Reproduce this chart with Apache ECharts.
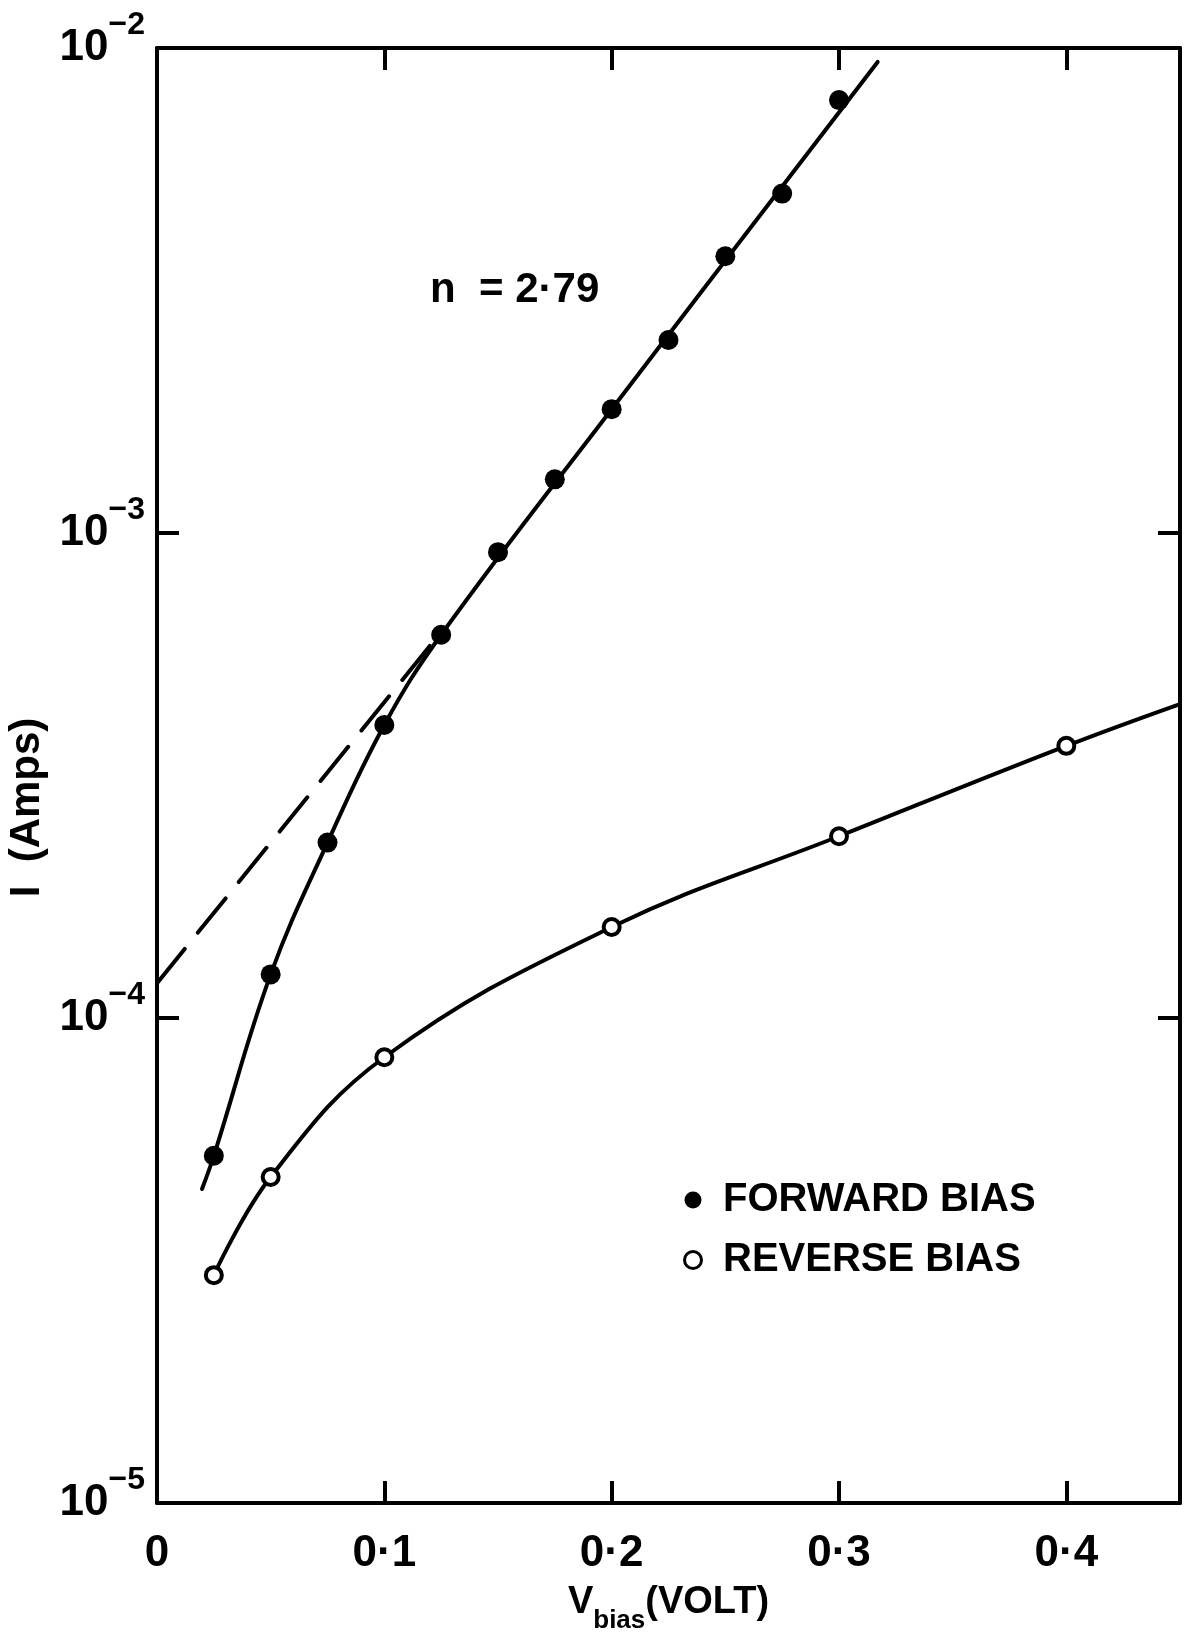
<!DOCTYPE html>
<html>
<head>
<meta charset="utf-8">
<title>I-V</title>
<script src="https://cdn.jsdelivr.net/npm/echarts@6/dist/echarts.min.js"></script>
<style>
html, body {margin: 0; padding: 0; background: #fff;}
#main {width: 1187px; height: 1640px;}
</style>
</head>
<body>
<div id="main"></div>
<script>
// forward bias, measured points
var forwardV = [0.025, 0.05, 0.075, 0.1, 0.125, 0.15, 0.175, 0.2, 0.225, 0.25, 0.275, 0.3];
var forwardI = [5.2e-5, 1.23e-4, 2.3e-4, 4.02e-4, 6.17e-4, 9.13e-4, 1.29e-3, 1.8e-3, 2.5e-3, 3.72e-3, 5.01e-3, 7.81e-3];
// reverse bias, measured points
var reverseV = [0.025, 0.05, 0.1, 0.2, 0.3, 0.4];
var reverseI = [2.95e-5, 4.7e-5, 8.3e-5, 1.54e-4, 2.37e-4, 3.64e-4];
// hand drawn curves through the points
var forwardCurveV = [0.0198, 0.025, 0.05, 0.075, 0.1, 0.125, 0.2, 0.317];
var forwardCurveI = [4.44e-5, 5.2e-5, 1.23e-4, 2.3e-4, 4.02e-4, 6.17e-4, 1.8e-3, 9.36e-3];
var reverseCurveV = [0.025, 0.05, 0.1, 0.2, 0.3, 0.4, 0.45];
var reverseCurveI = [2.95e-5, 4.7e-5, 8.3e-5, 1.54e-4, 2.37e-4, 3.64e-4, 4.44e-4];
// dashed extrapolation of the straight part
var extrapV = [0, 0.12];
var extrapI = [1.18e-4, 5.85e-4];
// tick labels
var xTicks = [0, 0.1, 0.2, 0.3, 0.4];
var xTickLabels = ['0', '0·1', '0·2', '0·3', '0·4'];
var yTicks = [1e-5, 1e-4, 1e-3, 1e-2];
var yTickLabels = ['−5', '−4', '−3', '−2'];

var FONT = '"Liberation Sans", Arial, sans-serif';

function pairs(xs, ys) {
    return xs.map(function (x, i) { return [x, ys[i]]; });
}

function fmtX(value) {
    for (var i = 0; i < xTicks.length; i++) {
        if (Math.abs(value - xTicks[i]) < 1e-9) return xTickLabels[i];
    }
    return '';
}

function fmtY(value) {
    for (var i = 0; i < yTicks.length; i++) {
        if (Math.abs(Math.log10(value) - Math.log10(yTicks[i])) < 1e-6) {
            return '{b|10}{s|' + yTickLabels[i] + '}';
        }
    }
    return '';
}

var axisLine = {show: true, onZero: false, lineStyle: {color: '#000', width: 4}};
var axisTick = {show: true, inside: true, length: 22, lineStyle: {color: '#000', width: 4}};

var chart = echarts.init(document.getElementById('main'));
var option = {
    animation: false,
    backgroundColor: '#fff',
    textStyle: {fontFamily: FONT, color: '#000', fontWeight: 'bold'},
    grid: {left: 157, right: 7, top: 48, bottom: 137, outerBoundsMode: 'none'},
    legend: {
        orient: 'vertical',
        left: 678,
        top: 1174,
        itemWidth: 50,
        itemHeight: 17,
        itemGap: 18,
        textStyle: {fontSize: 40, fontFamily: FONT, fontWeight: 'bold', color: '#000', lineHeight: 42},
        data: [
            {name: 'FORWARD BIAS', icon: 'circle', itemStyle: {color: '#000', borderWidth: 0}},
            {name: 'REVERSE BIAS', icon: 'circle', itemStyle: {color: '#fff', borderColor: '#000', borderWidth: 3}}
        ]
    },
    xAxis: [
        {
            type: 'value',
            position: 'bottom',
            min: 0,
            max: 0.45,
            interval: 0.1,
            axisLine: axisLine,
            axisTick: axisTick,
            splitLine: {show: false},
            axisLabel: {margin: 29, fontSize: 44, fontWeight: 'bold', color: '#000', fontFamily: FONT, formatter: fmtX},
            name: '{v|V}{sub|bias}{v|(VOLT)}',
            nameLocation: 'middle',
            nameGap: 69,
            nameTextStyle: {
                rich: {
                    v: {fontSize: 38, fontFamily: FONT, fontWeight: 'bold', color: '#000'},
                    sub: {fontSize: 26, fontFamily: FONT, fontWeight: 'bold', color: '#000', padding: [36, 0, 0, 0]}
                }
            }
        },
        {
            type: 'value',
            position: 'top',
            min: 0,
            max: 0.45,
            interval: 0.1,
            axisLine: axisLine,
            axisTick: axisTick,
            splitLine: {show: false},
            axisLabel: {show: false}
        }
    ],
    yAxis: [
        {
            type: 'log',
            logBase: 10,
            position: 'left',
            min: 1e-5,
            max: 1e-2,
            axisLine: axisLine,
            axisTick: axisTick,
            splitLine: {show: false},
            axisLabel: {
                margin: 12,
                showMinLabel: true,
                showMaxLabel: true,
                formatter: fmtY,
                rich: {
                    b: {fontSize: 44, fontFamily: FONT, fontWeight: 'bold', color: '#000'},
                    s: {fontSize: 32, fontFamily: FONT, fontWeight: 'bold', color: '#000', padding: [0, 0, 46, 0]}
                }
            },
            name: 'I  (Amps)',
            nameLocation: 'middle',
            nameRotate: 90,
            nameGap: 104,
            nameTextStyle: {fontSize: 42, fontFamily: FONT, fontWeight: 'bold', color: '#000', padding: [0, 64, 0, 0]}
        },
        {
            type: 'log',
            logBase: 10,
            position: 'right',
            min: 1e-5,
            max: 1e-2,
            axisLine: axisLine,
            axisTick: axisTick,
            splitLine: {show: false},
            axisLabel: {show: false}
        }
    ],
    graphic: [
        {
            type: 'text',
            x: 430,
            y: 290,
            style: {text: 'n  = 2·79', font: 'bold 42px "Liberation Sans", Arial, sans-serif', fill: '#000', verticalAlign: 'middle'}
        }
    ],
    series: [
        {
            name: 'forward curve',
            type: 'line',
            smooth: 0.4,
            symbol: 'none',
            lineStyle: {color: '#000', width: 4, cap: 'round'},
            data: pairs(forwardCurveV, forwardCurveI)
        },
        {
            name: 'extrapolation',
            type: 'line',
            symbol: 'none',
            lineStyle: {color: '#000', width: 4, type: [44, 21], cap: 'round'},
            data: pairs(extrapV, extrapI)
        },
        {
            name: 'reverse curve',
            type: 'line',
            smooth: 0.4,
            symbol: 'none',
            lineStyle: {color: '#000', width: 4, cap: 'round'},
            data: pairs(reverseCurveV, reverseCurveI)
        },
        {
            name: 'FORWARD BIAS',
            type: 'scatter',
            symbol: 'circle',
            symbolSize: 20,
            itemStyle: {color: '#000', opacity: 1},
            z: 5,
            data: pairs(forwardV, forwardI)
        },
        {
            name: 'REVERSE BIAS',
            type: 'scatter',
            symbol: 'circle',
            symbolSize: 16,
            itemStyle: {color: '#fff', borderColor: '#000', borderWidth: 4, opacity: 1},
            z: 5,
            data: pairs(reverseV, reverseI)
        }
    ]
};
chart.setOption(option);
</script>
</body>
</html>
